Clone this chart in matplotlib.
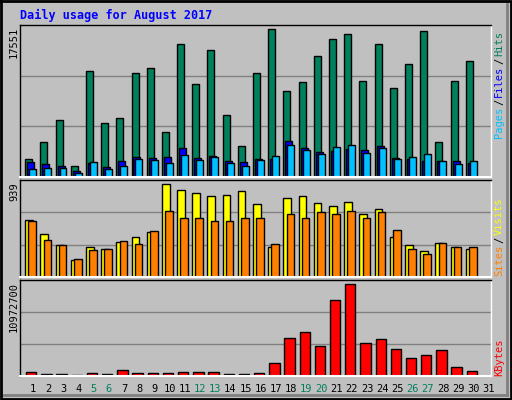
import matplotlib.pyplot as plt
import numpy as np

days = list(range(1, 32))
# values (day 31 has no data)
hits = [2184, 4210, 6830, 1350, 12548, 6473, 7068, 12310, 12906, 5400, 15764, 10999, 15050, 7425,
        3733, 12310, 17551, 10165, 11238, 14335, 16360, 16955, 11357, 15764, 10523, 13382, 17313,
        4210, 11357, 13739, 0]
files = [1827, 1588, 1350, 754, 1707, 1231, 1946, 2422, 2303, 2422, 3494, 2303, 2541, 1946,
         1827, 2184, 2184, 4328, 3494, 3018, 3137, 3375, 3256, 3733, 2303, 2184, 1946, 1946,
         1946, 1707, 0]
pages = [993, 1112, 1112, 516, 1827, 993, 1350, 2184, 2065, 1707, 2660, 2065, 2422, 1707,
         1350, 2065, 2541, 3852, 3256, 2780, 3613, 3852, 2899, 3494, 2184, 2422, 2780, 1946,
         1588, 1946, 0]
visits = [573, 431, 319, 176, 308, 278, 349, 400, 451, 939, 878, 847, 817, 827, 868, 735,
          308, 796, 817, 745, 715, 756, 634, 685, 400, 319, 258, 339, 308, 278, 0]
sites = [563, 369, 319, 186, 268, 278, 359, 329, 461, 671, 600, 600, 569, 569, 600, 600,
         329, 634, 600, 654, 634, 671, 600, 654, 471, 278, 237, 339, 298, 308, 0]
kbytes = [520600, 280300, 280300, 160200, 400500, 280300, 760900, 400500, 400500, 400500,
          520600, 520600, 520600, 280300, 280300, 400500, 1601900, 4484000, 5204800, 3523100,
          9050700, 10972700, 3883400, 4363900, 3162700, 2201800, 2562200, 3042600, 1121300,
          640700, 0]
weekends = [5, 6, 12, 13, 19, 20, 26, 27]

W, H = 512, 400
fig = plt.figure(figsize=(W / 100, H / 100), dpi=100)
fig.patch.set_facecolor('#C0C0C0')
mono = 'DejaVu Sans Mono'

# outer bevel
frame = fig.add_axes([0, 0, 1, 1], zorder=-1)
frame.set_xlim(0, W); frame.set_ylim(H, 0); frame.axis('off')
frame.plot([1, W - 1, W - 1, 1, 1], [1, 1, H - 1, H - 1, 1], color='black', lw=2)
frame.plot([4, W - 5], [H - 5, H - 5], color='#808080', lw=2)
frame.plot([W - 5, W - 5], [4, H - 5], color='#808080', lw=2)


def panel(top, bottom, vmax, frac):
    ax = fig.add_axes([20 / W, 1 - bottom / H, 471 / W, (bottom - top) / H])
    ax.set_facecolor('#C0C0C0')
    ymax = vmax / frac
    ax.set_ylim(0, ymax)
    ax.set_xlim(0, 31)
    for g in (ymax / 3, 2 * ymax / 3):
        ax.axhline(g, color='#808080', lw=1, zorder=0)
    ax.set_xticks([]); ax.set_yticks([])
    for s in ax.spines.values():
        s.set_color('black'); s.set_linewidth(1)
    ax.spines['right'].set_color('white')
    ax.spines['bottom'].set_color('white')
    ax.spines['bottom'].set_linewidth(1.5)
    return ax


x = np.arange(31)
kw = dict(align='edge', edgecolor='black', linewidth=1)

ax1 = panel(25, 177, 17551, 442 / 455)
ax1.bar(x + 0.34, hits, 0.46, color='#00805C', **kw)
ax1.bar(x + 0.47, files, 0.46, color='#0000FF', **kw)
ax1.bar(x + 0.60, pages, 0.46, color='#00C0FF', **kw)

ax2 = panel(180, 277, 939, 277 / 289)
ax2.bar(x + 0.34, visits, 0.5, color='#FFFF00', **kw)
ax2.bar(x + 0.55, sites, 0.5, color='#FF8000', **kw)

ax3 = panel(280, 376, 10972700, 274 / 286)
ax3.bar(x + 0.4, kbytes, 0.68, color='#FF0000', **kw)

# day labels
for d in days:
    c = '#00805C' if d in weekends else 'black'
    fig.text((20 + (d - 1 + 0.85) * 471 / 31) / W, 1 - 389 / H, str(d), color=c,
             family=mono, fontsize=7.5, ha='center', va='center')

fig.text(20 / W, 1 - 15 / H, 'Daily usage for August 2017', color='#0000FF',
         family=mono, fontsize=8.5, fontweight='bold', ha='left', va='center')

for label, y in (('17551', 25), ('939', 180), ('10972700', 280)):
    fig.text(14 / W, 1 - (y + 2) / H, label, family=mono, fontsize=7.5,
             rotation=90, ha='center', va='top')


def side(parts, ybottom):
    y = ybottom
    for txt, c in parts:
        fig.text(499 / W, 1 - y / H, txt, color=c, family=mono, fontsize=7.5,
                 rotation=90, ha='center', va='bottom')
        y -= len(txt) * 6.2 + 2


side([('Pages', '#00C0FF'), ('/', 'black'), ('Files', '#0000FF'), ('/', 'black'),
      ('Hits', '#00805C')], 138)
side([('Sites', '#FF8000'), ('/', 'black'), ('Visits', '#FFFF00')], 276)
side([('KBytes', '#FF0000')], 376)

fig.savefig('out.png', dpi=100, facecolor=fig.get_facecolor())
